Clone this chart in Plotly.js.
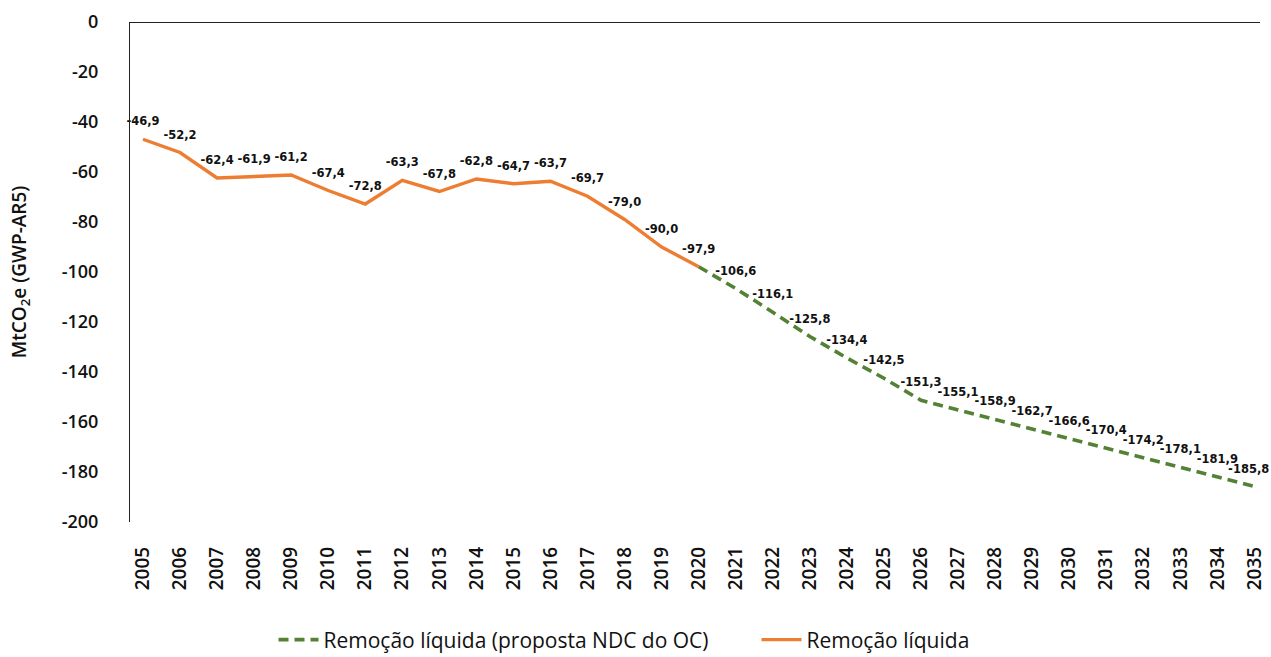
<!DOCTYPE html>
<html>
<head>
<meta charset="utf-8">
<script src="https://cdn.plot.ly/plotly-3.0.1.min.js"></script>
<style>html,body{margin:0;padding:0;background:#fff;}#chart{width:1271px;height:657px;}</style>
</head>
<body>
<div id="chart"></div>
<script>
const histYears = [2005,2006,2007,2008,2009,2010,2011,2012,2013,2014,2015,2016,2017,2018,2019,2020];
const histValues = [-46.9,-52.2,-62.4,-61.9,-61.2,-67.4,-72.8,-63.3,-67.8,-62.8,-64.7,-63.7,-69.7,-79.0,-90.0,-97.9];
const ndcYears = [2020,2021,2022,2023,2024,2025,2026,2027,2028,2029,2030,2031,2032,2033,2034,2035];
const ndcValues = [-97.9,-106.6,-116.1,-125.8,-134.4,-142.5,-151.3,-155.1,-158.9,-162.7,-166.6,-170.4,-174.2,-178.1,-181.9,-185.8];
const tickYears = [2005,2006,2007,2008,2009,2010,2011,2012,2013,2014,2015,2016,2017,2018,2019,2020,2021,2022,2023,2024,2025,2026,2027,2028,2029,2030,2031,2032,2033,2034,2035];
const yTicks = [0,-20,-40,-60,-80,-100,-120,-140,-160,-180,-200];

const fmt = v => v.toFixed(1).replace('.', ',');
const labelFont = {family: 'DejaVu Sans', size: 11.5, color: '#111', weight: 'bold'};
const hiddenMarker = {size: 16, color: 'rgba(0,0,0,0)', line: {width: 0}};

const ndcText = ndcValues.map((v, i) => i === 0 ? '' : fmt(v));
// keep the last label inside the page, as in the reference
ndcText[ndcText.length - 1] = ndcText[ndcText.length - 1] + '\u2002\u2002';

const traces = [
  {
    x: ndcYears, y: ndcValues, type: 'scatter', mode: 'lines+markers+text',
    name: 'Remoção líquida (proposta NDC do OC)',
    line: {color: '#548235', width: 3.6, dash: '10px,6px'},
    marker: hiddenMarker,
    text: ndcText,
    textposition: 'top center', textfont: labelFont,
    hoverinfo: 'x+y', cliponaxis: false
  },
  {
    x: histYears, y: histValues, type: 'scatter', mode: 'lines+markers+text',
    name: 'Remoção líquida',
    line: {color: '#ED7D31', width: 3.4},
    marker: hiddenMarker,
    text: histValues.map(fmt),
    textposition: 'top center', textfont: labelFont,
    hoverinfo: 'x+y', cliponaxis: false
  }
];

const layout = {
  width: 1271, height: 657,
  margin: {l: 130, r: 11, t: 22, b: 135, autoexpand: false},
  paper_bgcolor: '#fff', plot_bgcolor: '#fff',
  showlegend: true,
  legend: {orientation: 'h', x: 0.127, xanchor: 'left', y: -0.236, yanchor: 'middle',
           font: {family: 'Open Sans', size: 21, color: '#111'}, traceorder: 'normal',
           itemwidth: 40, entrywidth: 428},
  xaxis: {
    type: 'linear', range: [2004.65, 2035.15],
    tickmode: 'array', tickvals: tickYears, ticktext: tickYears.map(String),
    tickangle: -90, showgrid: false, zeroline: false, showline: false, ticks: '',
    ticklabelstandoff: 20, automargin: false,
    tickfont: {family: 'Open Sans', size: 19, color: '#111', weight: 600}
  },
  yaxis: {
    range: [-200, 0], tickmode: 'array', tickvals: yTicks, ticktext: yTicks.map(String),
    showgrid: false, zeroline: true, zerolinecolor: '#222', zerolinewidth: 1,
    showline: true, linecolor: '#222', linewidth: 1, ticks: '',
    ticklabelstandoff: 27, automargin: false,
    tickfont: {family: 'Open Sans', size: 18, color: '#111', weight: 600},
    title: {text: 'MtCO<sub>2</sub>e (GWP-AR5)', standoff: 30,
            font: {family: 'Open Sans', size: 19, color: '#111', weight: 600}}
  }
};

Plotly.newPlot('chart', traces, layout, {displayModeBar: false, staticPlot: true});
</script>
</body>
</html>
